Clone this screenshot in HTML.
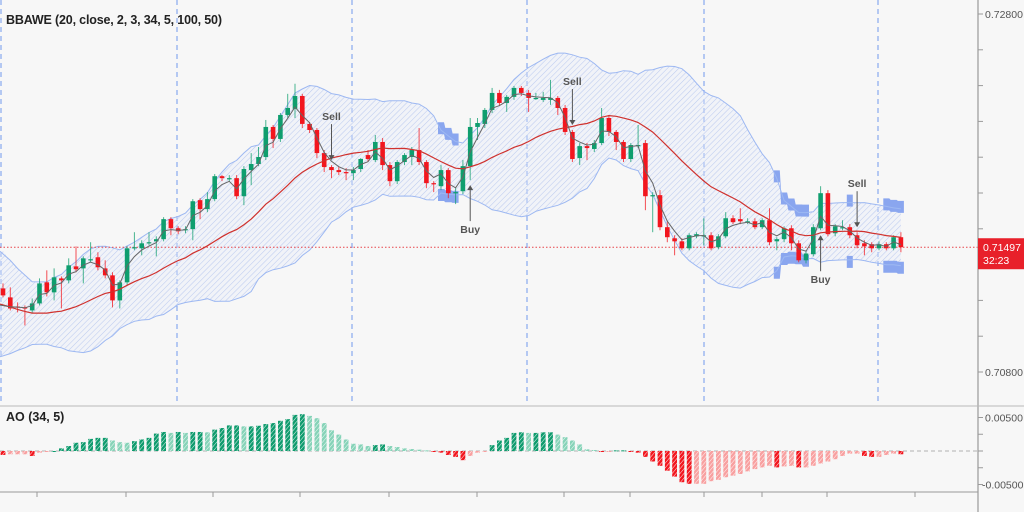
<!DOCTYPE html>
<html><head><meta charset="utf-8">
<style>
html,body{margin:0;padding:0;background:#f7f7f7;}
svg{display:block;font-family:"Liberation Sans",sans-serif;}
</style></head>
<body>
<svg id="chart" width="1024" height="512" xmlns="http://www.w3.org/2000/svg">
<defs>
<pattern id="hatch" width="4" height="4" patternUnits="userSpaceOnUse" patternTransform="rotate(45)"><line x1="0" y1="0" x2="0" y2="4" stroke="#bccbef" stroke-width="1.1"/></pattern>
<pattern id="pDG" width="3" height="3" patternUnits="userSpaceOnUse" patternTransform="rotate(40)"><rect width="3" height="3" fill="#0e9b6d"/><line x1="0" y1="0" x2="0" y2="3" stroke="#ffffff" stroke-width="0.9"/></pattern>
<pattern id="pLG" width="3" height="3" patternUnits="userSpaceOnUse" patternTransform="rotate(40)"><rect width="3" height="3" fill="#86d3b8"/><line x1="0" y1="0" x2="0" y2="3" stroke="#ffffff" stroke-width="0.9"/></pattern>
<pattern id="pDR" width="3" height="3" patternUnits="userSpaceOnUse" patternTransform="rotate(40)"><rect width="3" height="3" fill="#f2161e"/><line x1="0" y1="0" x2="0" y2="3" stroke="#ffffff" stroke-width="0.9"/></pattern>
<pattern id="pLR" width="3" height="3" patternUnits="userSpaceOnUse" patternTransform="rotate(40)"><rect width="3" height="3" fill="#f8a0a0"/><line x1="0" y1="0" x2="0" y2="3" stroke="#ffffff" stroke-width="0.9"/></pattern>
</defs>
<rect x="0" y="0" width="1024" height="512" fill="#f7f7f7"/>
<g id="grid"></g>
<g id="bands"></g>
<g id="candles"></g>
<g id="lines"></g>
<g id="signals"></g>
<g id="ao"></g>
<g id="axes"></g>
<text x="6" y="24" font-size="12.5" font-weight="bold" fill="#222" textLength="216">BBAWE (20, close, 2, 3, 34, 5, 100, 50)</text>
<text x="6" y="421" font-size="12.5" font-weight="bold" fill="#222">AO (34, 5)</text>
</svg>
<script>
const warmupCloses=[0.71480,0.71435,0.71379,0.71368,0.71301,0.71245,0.71200,0.71222,0.71155,0.71116,0.71077,0.71032,0.71004,0.70987,0.71032,0.71004,0.71054,0.71099,0.71172];
const opens=[0.71267,0.71217,0.71166,0.71161,0.71144,0.71183,0.71301,0.71245,0.71323,0.71312,
0.71390,0.71379,0.71424,0.71441,0.71379,0.71340,0.71200,0.71301,0.71491,0.71491,
0.71519,0.71530,0.71542,0.71654,0.71603,0.71592,0.71598,0.71760,0.71710,0.71766,
0.71894,0.71883,0.71883,0.71782,0.71928,0.71962,0.72001,0.72169,0.72102,0.72236,
0.72270,0.72342,0.72186,0.72152,0.72023,0.71945,0.71928,0.71917,0.71911,0.71934,
0.72012,0.71984,0.72085,0.71956,0.71866,0.71973,0.72001,0.72040,0.71973,0.71855,
0.71838,0.71928,0.71799,0.71810,0.71950,0.72169,0.72186,0.72264,0.72359,0.72303,
0.72337,0.72387,0.72359,0.72331,0.72320,0.72320,0.72331,0.72275,0.72141,0.71995,
0.72062,0.72046,0.72079,0.72219,0.72141,0.72085,0.71990,0.72068,0.72079,0.71782,
0.71788,0.71609,0.71547,0.71530,0.71491,0.71558,0.71564,0.71564,0.71497,0.71558,
0.71659,0.71654,0.71642,0.71642,0.71609,0.71648,0.71530,0.71542,0.71603,0.71519,
0.71424,0.71458,0.71603,0.71799,0.71575,0.71609,0.71609,0.71564,0.71519,0.71514,
0.71491,0.71514,0.71491,0.71553];
const highs=[0.71295,0.71273,0.71189,0.71172,0.71211,0.71323,0.71368,0.71379,0.71334,0.71435,
0.71502,0.71446,0.71525,0.71469,0.71424,0.71357,0.71312,0.71502,0.71581,0.71536,
0.71581,0.71558,0.71665,0.71665,0.71614,0.71614,0.71766,0.71771,0.71805,0.71906,
0.71900,0.71900,0.71900,0.71950,0.72023,0.72057,0.72208,0.72180,0.72247,0.72354,
0.72410,0.72354,0.72197,0.72163,0.72040,0.71956,0.71945,0.71939,0.71945,0.71995,
0.72040,0.72124,0.72107,0.71973,0.71984,0.72023,0.72057,0.72163,0.71984,0.71866,
0.71956,0.71939,0.71827,0.71984,0.72219,0.72219,0.72275,0.72387,0.72376,0.72348,
0.72398,0.72398,0.72376,0.72359,0.72365,0.72432,0.72342,0.72292,0.72152,0.72079,
0.72079,0.72096,0.72275,0.72236,0.72152,0.72096,0.72079,0.72180,0.72096,0.71805,
0.71816,0.71637,0.71564,0.71547,0.71575,0.71581,0.71659,0.71581,0.71570,0.71693,
0.71676,0.71715,0.71659,0.71659,0.71659,0.71715,0.71553,0.71614,0.71620,0.71536,
0.71480,0.71626,0.71838,0.71816,0.71626,0.71648,0.71626,0.71581,0.71536,0.71525,
0.71530,0.71525,0.71564,0.71581];
const lows=[0.71217,0.71144,0.71133,0.71060,0.71127,0.71172,0.71222,0.71200,0.71155,0.71295,
0.71357,0.71295,0.71413,0.71368,0.71323,0.71161,0.71155,0.71284,0.71480,0.71452,
0.71508,0.71446,0.71530,0.71564,0.71570,0.71575,0.71536,0.71654,0.71693,0.71754,
0.71866,0.71866,0.71766,0.71732,0.71844,0.71950,0.71984,0.72051,0.72085,0.72219,
0.72219,0.72163,0.72135,0.71995,0.71917,0.71883,0.71900,0.71872,0.71872,0.71917,
0.71973,0.71973,0.71928,0.71838,0.71850,0.71956,0.71956,0.71956,0.71827,0.71805,
0.71816,0.71771,0.71738,0.71794,0.71872,0.72096,0.72163,0.72247,0.72286,0.72253,
0.72320,0.72342,0.72253,0.72320,0.72309,0.72292,0.72236,0.72124,0.71973,0.71956,
0.71984,0.72029,0.72068,0.72118,0.72040,0.71973,0.71973,0.72051,0.71704,0.71581,
0.71592,0.71525,0.71452,0.71480,0.71480,0.71547,0.71508,0.71480,0.71486,0.71547,
0.71626,0.71626,0.71626,0.71598,0.71598,0.71508,0.71480,0.71525,0.71480,0.71413,
0.71407,0.71446,0.71592,0.71558,0.71558,0.71592,0.71547,0.71491,0.71452,0.71469,
0.71480,0.71480,0.71480,0.71469];
const closes=[0.71228,0.71155,0.71161,0.71155,0.71183,0.71295,0.71245,0.71329,0.71312,0.71396,
0.71374,0.71435,0.71430,0.71385,0.71340,0.71200,0.71301,0.71491,0.71497,0.71519,
0.71525,0.71542,0.71654,0.71603,0.71586,0.71598,0.71754,0.71710,0.71766,0.71894,
0.71883,0.71883,0.71782,0.71934,0.71962,0.72001,0.72169,0.72102,0.72236,0.72275,
0.72342,0.72186,0.72152,0.72023,0.71945,0.71928,0.71917,0.71911,0.71928,0.71990,
0.71990,0.72085,0.71956,0.71866,0.71973,0.72012,0.72040,0.71973,0.71855,0.71850,
0.71928,0.71799,0.71805,0.71950,0.72169,0.72191,0.72264,0.72359,0.72303,0.72337,
0.72387,0.72359,0.72331,0.72331,0.72331,0.72331,0.72275,0.72141,0.71990,0.72062,
0.72051,0.72079,0.72219,0.72141,0.72085,0.71990,0.72068,0.72068,0.71782,0.71788,
0.71609,0.71553,0.71530,0.71491,0.71564,0.71570,0.71564,0.71491,0.71558,0.71659,
0.71637,0.71642,0.71642,0.71609,0.71648,0.71525,0.71542,0.71603,0.71519,0.71424,
0.71462,0.71609,0.71799,0.71570,0.71614,0.71609,0.71564,0.71508,0.71502,0.71491,
0.71514,0.71491,0.71553,0.71497];
const aoValues=[-0.00059,-0.00049,-0.00049,-0.00049,-0.00074,-0.00025,-0.00015,0.00000,0.00039,0.00074,
0.00123,0.00132,0.00181,0.00196,0.00196,0.00157,0.00132,0.00123,0.00147,0.00172,
0.00196,0.00260,0.00284,0.00270,0.00284,0.00270,0.00284,0.00284,0.00279,0.00319,
0.00343,0.00382,0.00382,0.00368,0.00368,0.00377,0.00402,0.00417,0.00451,0.00475,
0.00539,0.00549,0.00524,0.00490,0.00417,0.00309,0.00245,0.00172,0.00108,0.00098,
0.00074,0.00088,0.00098,0.00074,0.00059,0.00039,0.00029,0.00020,0.00010,-0.00015,
-0.00025,-0.00059,-0.00088,-0.00137,-0.00074,-0.00025,-0.00010,0.00088,0.00157,0.00196,
0.00270,0.00279,0.00270,0.00270,0.00279,0.00279,0.00245,0.00206,0.00157,0.00098,
0.00025,0.00015,-0.00015,-0.00010,0.00010,0.00010,-0.00010,-0.00025,-0.00088,-0.00157,
-0.00221,-0.00294,-0.00382,-0.00466,-0.00490,-0.00490,-0.00490,-0.00451,-0.00431,-0.00392,
-0.00368,-0.00343,-0.00304,-0.00270,-0.00245,-0.00221,-0.00245,-0.00230,-0.00221,-0.00245,
-0.00245,-0.00221,-0.00186,-0.00157,-0.00123,-0.00074,-0.00039,-0.00039,-0.00074,-0.00088,
-0.00088,-0.00059,-0.00039,-0.00049];
const signalIdx=[45,64,78,112,117];
const signalType=['Sell','Buy','Sell','Buy','Sell'];
const squeezeFrom=[60,106,116,121];
const squeezeTo=[62,110,116,123];
const priceTicks=[0.728,0.726,0.724,0.722,0.720,0.718,0.716,0.714,0.712,0.710,0.708];
const priceTickLabels=['0.72800','','','','','','','','','','0.70800'];
const aoTicks=[0.005,0.0025,0,-0.0025,-0.005];
const aoTickLabels=['0.00500','','','','-0.00500'];
const lastPrice=0.71497;
const lastPriceLabel='0.71497';
const countdownLabel='32:23';

const NS='http://www.w3.org/2000/svg';
function mk(tag,attrs,parent){const e=document.createElementNS(NS,tag);for(const k in attrs)e.setAttribute(k,attrs[k]);parent.appendChild(e);return e;}
const xI=i=>3+i*7.3;
const yP=p=>14+(0.728-p)/0.02*358;
const yA=v=>451-v/0.005*33.5;
const N=closes.length;
const AXX=978;

const grid=document.getElementById('grid');
[1,177,352,527,704,878].forEach(x=>{
  const l=mk('line',{x1:x,y1:0,x2:x,y2:405,stroke:'#7098ee','stroke-width':1,'stroke-dasharray':'5,4'},grid);
  
  
});

const all=warmupCloses.concat(closes);
const W=warmupCloses.length;
const mid=[],up=[],lo=[],ema=[];
for(let i=0;i<N;i++){
  const s=Math.max(0,i+W-19),e=i+W;
  let sum=0,n=0;for(let j=s;j<=e;j++){sum+=all[j];n++;}
  const m=sum/n;let v=0;for(let j=s;j<=e;j++)v+=(all[j]-m)*(all[j]-m);
  const sd=Math.sqrt(v/n);
  mid.push(m);up.push(m+2*sd);lo.push(m-2*sd);
}
let e3=all[0];
for(let j=1;j<all.length;j++){e3=e3+0.5*(all[j]-e3);if(j>=W)ema.push(e3);}

const bands=document.getElementById('bands');
let poly='0,'+yP(up[0]).toFixed(1)+' ';
for(let i=0;i<N;i++)poly+=xI(i).toFixed(1)+','+yP(up[i]).toFixed(1)+' ';
for(let i=N-1;i>=0;i--)poly+=xI(i).toFixed(1)+','+yP(lo[i]).toFixed(1)+' ';
poly+='0,'+yP(lo[0]).toFixed(1);
const bf=mk('polygon',{points:poly,fill:'#e4eaf8','fill-opacity':0.35},bands);


const bh=mk('polygon',{points:poly,fill:'url(#hatch)'},bands);


for(let k=0;k<squeezeFrom.length;k++){
  let pu='',pl='';
  const a=squeezeFrom[k],b=squeezeTo[k];
  for(let i=a;i<=b;i++)pu+=(xI(i)-3).toFixed(1)+','+(yP(up[i])-8).toFixed(1)+' '+(xI(i)+3).toFixed(1)+','+(yP(up[i])-8).toFixed(1)+' ';
  for(let i=b;i>=a;i--)pu+=(xI(i)+3).toFixed(1)+','+(yP(up[i])+4).toFixed(1)+' '+(xI(i)-3).toFixed(1)+','+(yP(up[i])+4).toFixed(1)+' ';
  for(let i=a;i<=b;i++)pl+=(xI(i)-3).toFixed(1)+','+(yP(lo[i])-4).toFixed(1)+' '+(xI(i)+3).toFixed(1)+','+(yP(lo[i])-4).toFixed(1)+' ';
  for(let i=b;i>=a;i--)pl+=(xI(i)+3).toFixed(1)+','+(yP(lo[i])+8).toFixed(1)+' '+(xI(i)-3).toFixed(1)+','+(yP(lo[i])+8).toFixed(1)+' ';
  const su=mk('polygon',{points:pu,fill:'#8aa6ef'},bands);
  
  
  const sl=mk('polygon',{points:pl,fill:'#8aa6ef'},bands);
  
  
}
const mkLine=(arr,stroke,w,parent)=>{
  let d='';arr.forEach((v,i)=>{d+=(i?'L':'M')+(i?xI(i):0).toFixed(1)+','+yP(v).toFixed(1);});
  return mk('path',{d:d,fill:'none',stroke:stroke,'stroke-width':w},parent);
};
const ub=mkLine(up,'#9db8f2',1,bands);


const lb=mkLine(lo,'#9db8f2',1,bands);



const lp=mk('line',{x1:0,y1:yP(lastPrice),x2:AXX,y2:yP(lastPrice),stroke:'#e8454a','stroke-width':1,'stroke-dasharray':'1.5,2'},bands);



const cg=document.getElementById('candles');
for(let i=0;i<N;i++){
  const up1=closes[i]>=opens[i];
  const col=up1?'#0f9e6e':'#f2161e';
  const x=xI(i);
  const g=mk('g',{},cg);
  
  
  mk('line',{x1:x,y1:yP(highs[i]),x2:x,y2:yP(lows[i]),stroke:col,'stroke-width':1,'stroke-opacity':0.75},g);
  const t=Math.min(yP(opens[i]),yP(closes[i])),h=Math.max(1.2,Math.abs(yP(opens[i])-yP(closes[i])));
  mk('rect',{x:x-2.3,y:t,width:4.6,height:h,fill:col},g);
}

const lg=document.getElementById('lines');
const ml=mkLine(mid,'#d0312d',1.2,lg);


const el=mkLine(ema,'#666',1,lg);



const sg=document.getElementById('signals');
signalIdx.forEach((idx,k)=>{
  const x=xI(idx);const sell=signalType[k]==='Sell';
  const tip=sell?yP(highs[idx])-5:yP(lows[idx])+5;
  const tail=sell?tip-36:tip+36;
  const g=mk('g',{},sg);
  
  
  mk('line',{x1:x,y1:tail,x2:x,y2:sell?tip-4:tip+4,stroke:'#555','stroke-width':1},g);
  mk('polygon',{points:sell?`${x-3},${tip-5} ${x+3},${tip-5} ${x},${tip}`:`${x-3},${tip+5} ${x+3},${tip+5} ${x},${tip}`,fill:'#555'},g);
  const t=mk('text',{x:x,y:sell?tail-4:tail+12,'text-anchor':'middle','font-size':10.5,'font-weight':'bold',fill:'#555'},g);
  t.textContent=signalType[k];
});

const ag=document.getElementById('ao');
const zl=mk('line',{x1:0,y1:451,x2:AXX,y2:451,stroke:'#b0b0b0','stroke-width':1,'stroke-dasharray':'4,3'},ag);


aoValues.forEach((v,i)=>{
  const prev=i?aoValues[i-1]:v;
  const rising=i?v>=prev:false;
  const fill=v>=0?(rising?'url(#pDG)':'url(#pLG)'):(rising?'url(#pLR)':'url(#pDR)');
  const y=Math.min(yA(v),451),h=Math.max(1,Math.abs(yA(v)-451));
  const r=mk('rect',{x:xI(i)-2.4,y:y,width:4.8,height:h,fill:fill},ag);
  
  
});

const ax=document.getElementById('axes');
const pane=mk('rect',{x:AXX,y:0,width:46,height:512,fill:'#f7f7f7'},ax);


const va=mk('line',{x1:AXX,y1:0,x2:AXX,y2:512,stroke:'#9a9a9a','stroke-width':1.2},ax);


const sep=mk('line',{x1:0,y1:406,x2:1024,y2:406,stroke:'#b8b8b8','stroke-width':1},ax);


const xa=mk('line',{x1:0,y1:492,x2:AXX,y2:492,stroke:'#9a9a9a','stroke-width':1},ax);


[37,126,213,300,389,477,564,630,704,762,827,915].forEach(x=>{
  const t=mk('line',{x1:x,y1:492,x2:x,y2:497,stroke:'#9a9a9a','stroke-width':1},ax);
  
  
});
priceTicks.forEach((p,k)=>{
  const y=yP(p);
  const t=mk('line',{x1:AXX,y1:y,x2:AXX+5,y2:y,stroke:'#9a9a9a','stroke-width':1},ax);
  
  
  if(priceTickLabels[k]){
    const tx=mk('text',{x:985,y:y+4,'font-size':10.5,fill:'#555'},ax);
    
    
    tx.textContent=priceTickLabels[k];
  }
});
aoTicks.forEach((v,k)=>{
  const y=yA(v);
  const t=mk('line',{x1:AXX,y1:y,x2:AXX+5,y2:y,stroke:'#9a9a9a','stroke-width':1},ax);
  
  
  if(aoTickLabels[k]){
    const tx=mk('text',{x:v<0?982:985,y:y+4,'font-size':10.5,fill:'#555'},ax);
    
    
    tx.textContent=aoTickLabels[k];
  }
});
const pl=mk('rect',{x:AXX,y:yP(lastPrice)-9,width:46,height:31,fill:'#e8202a'},ax);


const pt=mk('text',{x:983,y:yP(lastPrice)+4,'font-size':10.5,fill:'#fff'},ax);


pt.textContent=lastPriceLabel;
const ct=mk('text',{x:983,y:yP(lastPrice)+17,'font-size':10.5,fill:'#fff'},ax);


ct.textContent=countdownLabel;
</script>
</body></html>
